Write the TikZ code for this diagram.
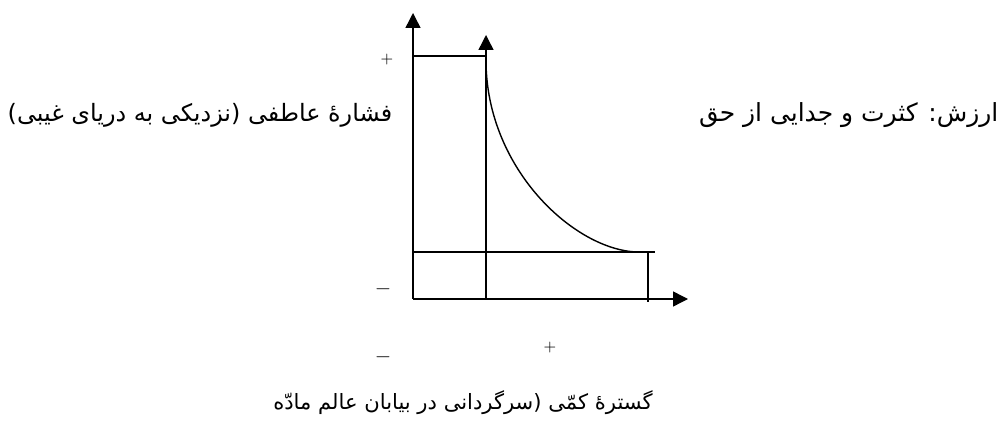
\documentclass[tikz,border=0pt]{standalone}
\usepackage{fontspec}
\newfontfamily\arabicfont[Script=Arabic]{DejaVu Sans}
\TeXXeTstate=1
\usetikzlibrary{arrows.meta}

\tikzset{
  farsi/.style={font=\arabicfont\fontsize{#1}{16}\selectfont, inner sep=0pt},
  farsi/.default=13,
  plus/.style={font=\fontsize{9}{10}\selectfont, inner sep=0pt},
  minus/.style={font=\fontsize{13}{14}\selectfont, inner sep=0pt}
}

\begin{document}
\begin{tikzpicture}[x=0.02cm, y=-0.02cm, >={Triangle[length=0.3cm, width=0.3cm]}, line width=0.8pt]
  \useasboundingbox (0,0) rectangle (1006,421);

  % Coordinates for the axes
  \coordinate (O) at (413,299);
  \coordinate (Y_T) at (413,13);
  \coordinate (X_R) at (688,299);

  % Coordinates for the inner axis and the upper box
  \coordinate (V_B) at (486,299);
  \coordinate (V_T) at (486,35);
  \coordinate (H_L) at (413,56);
  \coordinate (H_R) at (486,56);

  % Coordinates for the lower level
  \coordinate (L_L) at (413,252);
  \coordinate (L_R) at (655,252);
  \coordinate (E_T) at (648,252);
  \coordinate (E_B) at (648,302);

  % Ends of the curve
  \coordinate (C_S) at (486,62);
  \coordinate (C_E) at (637,252);

  % Draw the axes
  \draw[->] (O) -- (Y_T);
  \draw[->] (O) -- (X_R);

  % Draw inner axis and the boxes
  \draw[->] (V_B) -- (V_T);
  \draw (H_L) -- (H_R);
  \draw (L_L) -- (L_R);
  \draw (E_T) -- (E_B);

  % Draw the curve
  \draw (C_S) .. controls (487,170) and (575,250) .. (C_E);

  % Labels
  \node[farsi=13.6, anchor=east] (pressure) at (393,115) {\beginR فشارهٔ عاطفی (نزدیکی به دریای غیبی)\endR};
  \node[farsi=14.2, anchor=east] (value) at (999,115) {\beginR ارزش: کثرت و جدایی از حق\endR};
  \node[farsi=12] (extent) at (463,403) {\beginR گسترهٔ کمّی (سرگردانی در بیابان عالم مادّه\endR};

  \node[plus] (ytop) at (387,60) {$+$};
  \node[minus] (ybot) at (383,289) {$-$};
  \node[minus] (xleft) at (383,357) {$-$};
  \node[plus] (xright) at (550,348) {$+$};
\end{tikzpicture}
\end{document}
